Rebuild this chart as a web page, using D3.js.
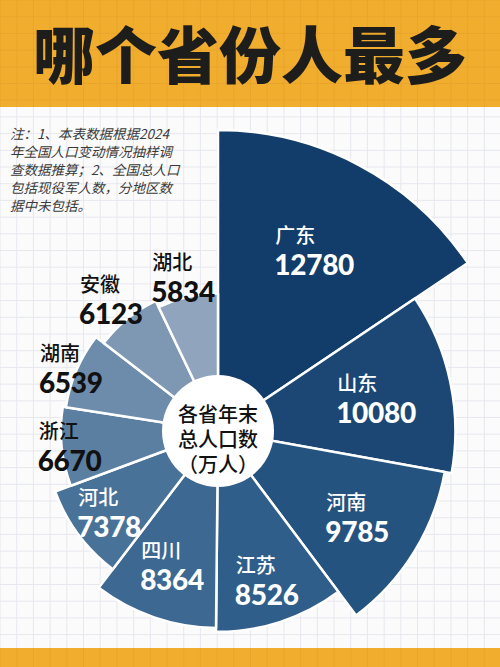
<!DOCTYPE html>
<html><head><meta charset="utf-8">
<script src="https://cdn.jsdelivr.net/npm/d3@7"></script>
<style>html,body{margin:0;padding:0;background:#fbfbfb;}svg{display:block;}</style>
</head><body>
<svg id="c" width="500" height="667"></svg>
<script>
const provinces = ["广东","山东","河南","江苏","四川","河北","浙江","湖南","安徽","湖北"];
const populations = [12780,10080,9785,8526,8364,7378,6670,6539,6123,5834];
const titleText = "哪个省份人最多";
const noteLines = ["注：1、本表数据根据2024","年全国人口变动情况抽样调","查数据推算；2、全国总人口","包括现役军人数，分地区数","据中未包括。"];
const centerLines = ["各省年末","总人口数","（万人）"];
// label layout (fraction of sector radius) and colour of label text
const labelRadius = [0.68,0.68,0.71,0.78,0.72,0.78,0.95,1.04,1.18,1.15];
const insideCount = 6;

const W=500,H=667;
const svg=d3.select("#c");
const data=provinces.map((p,i)=>({name:p,value:populations[i],i}));

// background + grid
svg.append("rect").attr("width",W).attr("height",H).attr("fill","#fbfbfb");
const step=16.7;
const grid=svg.append("g").attr("stroke","#e7e8ee").attr("stroke-width",1);
d3.range(0,W,step).forEach(x=>grid.append("line").attr("x1",x).attr("x2",x).attr("y1",0).attr("y2",H));
d3.range(0,H,step).forEach(y=>grid.append("line").attr("x1",0).attr("x2",W).attr("y1",y).attr("y2",y));

// banners
const orange="#f1ad2e";
svg.append("rect").attr("x",0).attr("y",0).attr("width",W).attr("height",107).attr("fill",orange);
svg.append("rect").attr("x",0).attr("y",648).attr("width",W).attr("height",19).attr("fill",orange);
const g2=svg.append("g").attr("stroke","#e3a12a").attr("stroke-width",0.8).attr("opacity",0.7);
d3.range(0,W,step).forEach(x=>{g2.append("line").attr("x1",x).attr("x2",x).attr("y1",0).attr("y2",107);g2.append("line").attr("x1",x).attr("x2",x).attr("y1",648).attr("y2",H);});
d3.range(0,107,step).forEach(y=>g2.append("line").attr("x1",0).attr("x2",W).attr("y1",y).attr("y2",y));

svg.append("text").attr("x",250).attr("y",52).attr("text-anchor","middle").attr("dominant-baseline","central")
  .attr("font-family","'Noto Sans CJK SC'").attr("font-weight",900).attr("font-size",62)
  .attr("fill","#1d1d1b").text(titleText);

// note
const note=svg.append("text").attr("font-family","'Noto Sans CJK SC'").attr("font-size",13.5)
  .attr("fill","#3a3a3a").attr("font-style","italic");
noteLines.forEach((l,i)=>note.append("tspan").attr("x",10).attr("y",138.5+i*18.1).text(l));

// chart
const cx=218, cy=431;
const rScale=d3.scaleLinear().domain([0,d3.max(populations)]).range([0,301]);
const color=d3.scaleLinear().domain([0,3,5,9]).range(["#123c69","#2f5e8a","#497298","#90a4bd"]).interpolate(d3.interpolateRgb);
const pie=d3.pie().sort(null).value(d=>d.value).startAngle(0).endAngle(2*Math.PI);
const arcs=pie(data);
const arc=d3.arc().innerRadius(0).outerRadius(d=>rScale(d.data.value));
const cg=svg.append("g").attr("transform",`translate(${cx},${cy})`);
cg.selectAll("path").data(arcs).join("path").attr("d",arc)
  .attr("fill",d=>color(d.data.i)).attr("stroke","#ffffff").attr("stroke-width",2.5).attr("stroke-linejoin","round");
cg.append("circle").attr("r",56).attr("fill","#ffffff");
centerLines.forEach((l,i)=>cg.append("text").attr("text-anchor","middle").attr("font-family","Lato, 'Noto Sans CJK SC'")
  .attr("font-weight",500).attr("font-size",20).attr("fill","#111")
  .attr("x",0).attr("y",-9+i*25).text(l));

// labels
arcs.forEach((d,k)=>{
  const a=(d.startAngle+d.endAngle)/2;
  const r=rScale(d.data.value)*labelRadius[k];
  const px=Math.sin(a)*r, py=-Math.cos(a)*r;
  const fill=k<insideCount?"#ffffff":"#111111";
  const lg=cg.append("g");
  const v=lg.append("text").attr("font-family","Lato").attr("font-weight",900).attr("font-size",28)
    .attr("letter-spacing",-0.3).attr("fill",fill).attr("y",py+25).text(d.data.value);
  const w=v.node().getComputedTextLength();
  v.attr("x",px-w/2);
  lg.append("text").attr("font-family","'Noto Sans CJK SC'").attr("font-weight",500).attr("font-size",20)
    .attr("fill",fill).attr("x",px-w/2+1).attr("y",py-7).text(d.data.name);
});
</script>
</body></html>
